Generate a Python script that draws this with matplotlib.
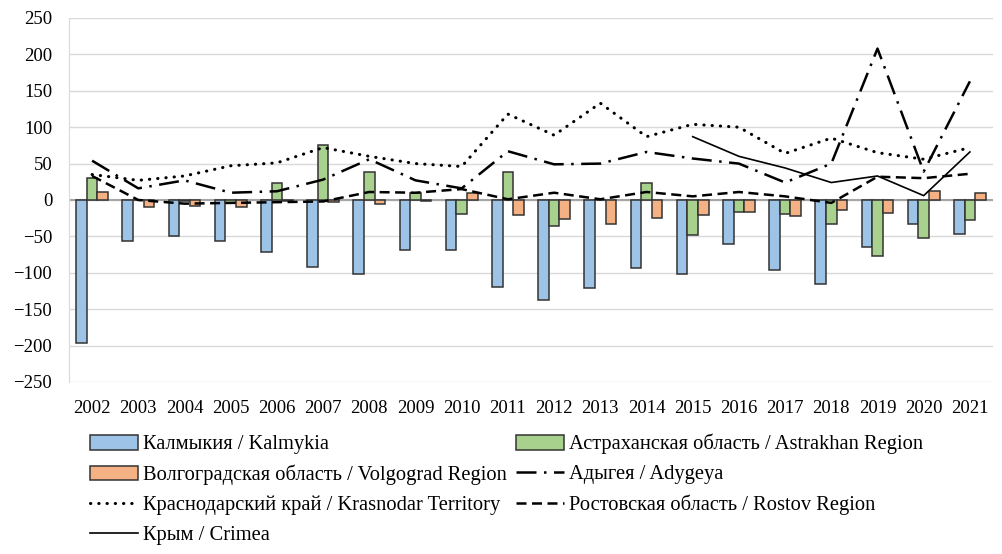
import matplotlib
matplotlib.use("Agg")
import matplotlib.pyplot as plt
import numpy as np

plt.rcParams['font.family'] = ['Liberation Serif', 'DejaVu Serif']

years = [str(y) for y in range(2002, 2022)]

kalmykia = [-197, -56, -50, -56, -72, -92, -101, -69, -69, -120, -137, -121, -93, -102, -60, -96, -115, -64, -33, -47]
astrakhan = [30, 0, -1, -4, 23, 75, 38, 10, -19, 39, -36, 0, 24, -48, -16, -19, -33, -77, -52, -27]
volgograd = [11, -10, -8, -10, -1, -3, -5, -2, 9, -21, -26, -33, -25, -21, -17, -22, -14, -18, 13, 10]
adygeya = [54, 16, 27, 10, 12, 28, 56, 27, 16, 67, 49, 50, 66, 57, 50, 24, 50, 208, 39, 163]
krasnodar = [35, 27, 33, 47, 51, 72, 60, 50, 46, 118, 89, 133, 87, 104, 100, 64, 85, 65, 56, 72]
rostov = [33, 0, -5, -4, -3, -2, 11, 10, 15, 1, 10, 1, 11, 5, 11, 5, -4, 32, 30, 36]
crimea = [None] * 13 + [87, 60, 44, 24, 33, 6, 66]

labels = {
    'kalmykia': 'Калмыкия / Kalmykia',
    'astrakhan': 'Астраханская область / Astrakhan Region',
    'volgograd': 'Волгоградская область / Volgograd Region',
    'adygeya': 'Адыгея / Adygeya',
    'krasnodar': 'Краснодарский край / Krasnodar Territory',
    'rostov': 'Ростовская область / Rostov Region',
    'crimea': 'Крым / Crimea',
}

fig = plt.figure(figsize=(10.02, 5.54), dpi=100)
ax = fig.add_axes([69/1002, 1-382/554, (993-69)/1002, (382-18)/554])

x = np.arange(len(years))
bw = 0.23
edge = '#333333'
b1 = ax.bar(x - bw, kalmykia, bw, color='#9dc3e6', edgecolor=edge, linewidth=1.1, zorder=3, label=labels['kalmykia'])
b2 = ax.bar(x, astrakhan, bw, color='#a9d18e', edgecolor=edge, linewidth=1.1, zorder=3, label=labels['astrakhan'])
b3 = ax.bar(x + bw, volgograd, bw, color='#f4b183', edgecolor=edge, linewidth=1.1, zorder=3, label=labels['volgograd'])

l1, = ax.plot(x, adygeya, color='black', lw=1.8, ls=(0, (8, 3, 1, 3)), zorder=4, label=labels['adygeya'])
l2, = ax.plot(x, krasnodar, color='black', lw=2.2, ls=(0, (0.1, 2.6)), dash_capstyle='round', zorder=4, label=labels['krasnodar'])
l3, = ax.plot(x, rostov, color='black', lw=1.8, ls=(0, (4, 2.2)), zorder=4, label=labels['rostov'])
cr = np.array([np.nan if v is None else v for v in crimea], dtype=float)
l4, = ax.plot(x, cr, color='black', lw=1.2, ls='-', zorder=4, label=labels['crimea'])

ax.set_xlim(-0.5, len(years) - 0.5)
ax.set_ylim(-250, 250)
ax.set_yticks(range(-250, 251, 50))
ax.set_xticks(x)
ax.set_xticklabels(years)
ax.grid(axis='y', color='#d9d9d9', lw=1.0, zorder=0)
ax.axhline(0, color='#a6a6a6', lw=1.5, zorder=2)
for s in ['top', 'right', 'bottom']:
    ax.spines[s].set_visible(False)
ax.spines['left'].set_color('#d9d9d9')
ax.tick_params(axis='both', length=0, labelsize=13.5)
ax.tick_params(axis='y', pad=12)
ax.tick_params(axis='x', pad=13)

handles = [b1, b3, l2, l4, b2, l1, l3]
leg = fig.legend(handles, [h.get_label() for h in handles], ncol=2,
                 loc='upper left', bbox_to_anchor=(90/1002, 1-434/554),
                 frameon=False, fontsize=14.8, handlelength=2.35,
                 handletextpad=0.25, columnspacing=0.4, labelspacing=0.5,
                 borderaxespad=0, borderpad=0)

fig.savefig('out.png', dpi=100)
